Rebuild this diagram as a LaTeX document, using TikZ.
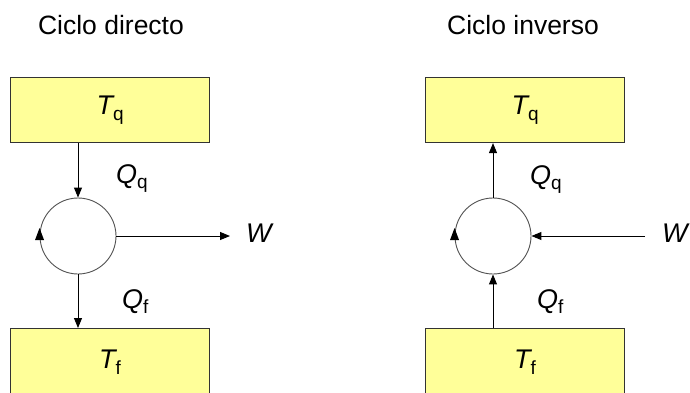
\documentclass[tikz,border=0pt]{standalone}
\usepackage{fontspec}
\setmainfont{Liberation Sans}
\usetikzlibrary{arrows.meta,calc}
\definecolor{boxfill}{HTML}{FFFF99}
\definecolor{edge}{HTML}{333333}
\newcommand{\lab}[2]{{\fontsize{27}{27}\selectfont\itshape #1}{\fontsize{19}{19}\selectfont\raisebox{-5.5pt}{#2}}}
\begin{document}
\begin{tikzpicture}[x=1pt,y=1pt,
  res/.style={draw=edge, fill=boxfill, line width=1.1pt, minimum width=199pt, minimum height=65pt, inner sep=0pt, anchor=north west},
  cyc/.style={circle, draw=edge!85, line width=0.9pt, minimum size=76pt, inner sep=0pt},
  flow/.style={draw=black, line width=1pt, -{Triangle[length=10pt,width=8pt]}},
  ttl/.style={font=\fontsize{26.5}{26.5}\selectfont, anchor=base, inner sep=0pt},
  lbl/.style={anchor=base west, inner sep=0pt},
  tip/.style={fill=black},
]
\useasboundingbox (0,0) rectangle (690,392);
\clip (0,0) rectangle (690,392);
\fill[white] (0,0) rectangle (690,392);

% ---------- Ciclo directo ----------
\node[ttl] (t1) at (111,357) {Ciclo directo};
\node[res] (tq1) at (10,315) {\lab{T}{q}};
\node[res, minimum height=67pt] (tf1) at (10,64) {\lab{T}{f}};
\node[cyc] (c1) at (78,156) {};
\draw[flow] (tq1.south -| c1) -- (c1.north);
\draw[flow] (c1.south) -- (tf1.north -| c1);
\coordinate (w1) at (230,156);
\draw[flow] (c1.east) -- (w1);
\node[anchor=west, inner sep=0pt] (wl1) at (246,156) {\lab{W}{}};
\node[lbl] (qq1) at (116,209) {\lab{Q}{q}};
\node[lbl] (qf1) at (122,84) {\lab{Q}{f}};
\fill[tip] ($(c1.west)+(0,8)$) -- ++(-4.5,-12) -- ++(9,0) -- cycle;

% ---------- Ciclo inverso ----------
\node[ttl] (t2) at (523,357) {Ciclo inverso};
\node[res] (tq2) at (425,315) {\lab{T}{q}};
\node[res, minimum height=67pt] (tf2) at (425,64) {\lab{T}{f}};
\node[cyc] (c2) at (493,156) {};
\draw[flow] (c2.north) -- (tq2.south -| c2);
\draw[flow] (tf2.north -| c2) -- (c2.south);
\coordinate (w2) at (645,156);
\draw[flow] (w2) -- (c2.east);
\node[anchor=west, inner sep=0pt] (wl2) at (662,156) {\lab{W}{}};
\node[lbl] (qq2) at (530,208) {\lab{Q}{q}};
\node[lbl] (qf2) at (537,84) {\lab{Q}{f}};
\fill[tip] ($(c2.west)+(0,8)$) -- ++(-4.5,-12) -- ++(9,0) -- cycle;
\end{tikzpicture}
\end{document}
